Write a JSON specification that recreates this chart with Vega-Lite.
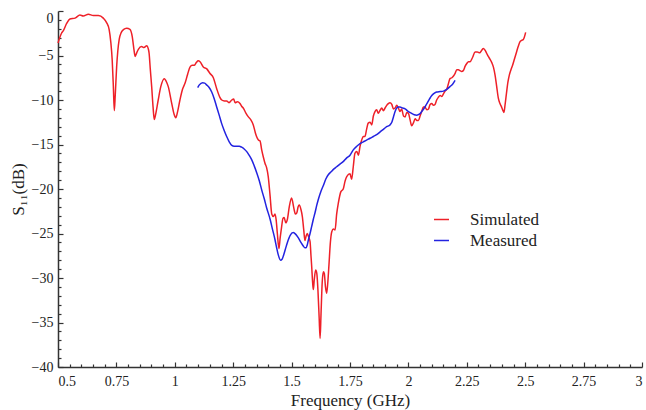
{
  "$schema": "https://vega.github.io/schema/vega-lite/v6.json",
  "width": 584,
  "height": 356,
  "autosize": "none",
  "padding": {"left": 58, "top": 11, "right": 4, "bottom": 43},
  "background": "white",
  "config": {
    "view": {"stroke": null},
    "font": "Liberation Serif",
    "axis": {
      "domainColor": "#333333",
      "domainWidth": 1.5,
      "tickColor": "#333333",
      "tickWidth": 1.2,
      "grid": false,
      "labelFont": "Liberation Serif",
      "labelFontSize": 14,
      "labelColor": "#222222",
      "titleFont": "Liberation Serif",
      "titleFontSize": 17,
      "titleFontWeight": "normal",
      "titleColor": "#222222"
    }
  },
  "datasets": {
    "curves": [
      {"series": "Simulated", "f": 0.5, "db": -3.6},
      {"series": "Simulated", "f": 0.515, "db": -2.5},
      {"series": "Simulated", "f": 0.523, "db": -2.2},
      {"series": "Simulated", "f": 0.537, "db": -1.4},
      {"series": "Simulated", "f": 0.551, "db": -0.9},
      {"series": "Simulated", "f": 0.573, "db": -0.8},
      {"series": "Simulated", "f": 0.594, "db": -0.45},
      {"series": "Simulated", "f": 0.608, "db": -0.55},
      {"series": "Simulated", "f": 0.63, "db": -0.37},
      {"series": "Simulated", "f": 0.651, "db": -0.5},
      {"series": "Simulated", "f": 0.673, "db": -0.5},
      {"series": "Simulated", "f": 0.694, "db": -0.8},
      {"series": "Simulated", "f": 0.708, "db": -1.3},
      {"series": "Simulated", "f": 0.719, "db": -2.1},
      {"series": "Simulated", "f": 0.726, "db": -3.5},
      {"series": "Simulated", "f": 0.732, "db": -5.5},
      {"series": "Simulated", "f": 0.737, "db": -8.5},
      {"series": "Simulated", "f": 0.741, "db": -11.2},
      {"series": "Simulated", "f": 0.745, "db": -9.5},
      {"series": "Simulated", "f": 0.751, "db": -6.3},
      {"series": "Simulated", "f": 0.756, "db": -4.5},
      {"series": "Simulated", "f": 0.762, "db": -3.2},
      {"series": "Simulated", "f": 0.771, "db": -2.4},
      {"series": "Simulated", "f": 0.78, "db": -2.1},
      {"series": "Simulated", "f": 0.794, "db": -1.95},
      {"series": "Simulated", "f": 0.808, "db": -2.06},
      {"series": "Simulated", "f": 0.818, "db": -2.9},
      {"series": "Simulated", "f": 0.825, "db": -4.3},
      {"series": "Simulated", "f": 0.83, "db": -5.1},
      {"series": "Simulated", "f": 0.837, "db": -4.7},
      {"series": "Simulated", "f": 0.844, "db": -4.3},
      {"series": "Simulated", "f": 0.858, "db": -4.0},
      {"series": "Simulated", "f": 0.868, "db": -4.1},
      {"series": "Simulated", "f": 0.88, "db": -3.9},
      {"series": "Simulated", "f": 0.886, "db": -4.2},
      {"series": "Simulated", "f": 0.89, "db": -4.75},
      {"series": "Simulated", "f": 0.895, "db": -6.5},
      {"series": "Simulated", "f": 0.901, "db": -8.5},
      {"series": "Simulated", "f": 0.907, "db": -10.8},
      {"series": "Simulated", "f": 0.912, "db": -12.2},
      {"series": "Simulated", "f": 0.918, "db": -11.6},
      {"series": "Simulated", "f": 0.929, "db": -10.0},
      {"series": "Simulated", "f": 0.94, "db": -8.5},
      {"series": "Simulated", "f": 0.955, "db": -7.6},
      {"series": "Simulated", "f": 0.965, "db": -8.0},
      {"series": "Simulated", "f": 0.972, "db": -8.5},
      {"series": "Simulated", "f": 0.987, "db": -10.4},
      {"series": "Simulated", "f": 0.997, "db": -11.6},
      {"series": "Simulated", "f": 1.004, "db": -12.0},
      {"series": "Simulated", "f": 1.012, "db": -11.3},
      {"series": "Simulated", "f": 1.022, "db": -10.0},
      {"series": "Simulated", "f": 1.033, "db": -8.8},
      {"series": "Simulated", "f": 1.044, "db": -8.1},
      {"series": "Simulated", "f": 1.055, "db": -7.1},
      {"series": "Simulated", "f": 1.065, "db": -6.3},
      {"series": "Simulated", "f": 1.075, "db": -6.1},
      {"series": "Simulated", "f": 1.083, "db": -6.1},
      {"series": "Simulated", "f": 1.092, "db": -5.8},
      {"series": "Simulated", "f": 1.1, "db": -5.6},
      {"series": "Simulated", "f": 1.108, "db": -5.7},
      {"series": "Simulated", "f": 1.122, "db": -6.3},
      {"series": "Simulated", "f": 1.137, "db": -6.5},
      {"series": "Simulated", "f": 1.15, "db": -7.0},
      {"series": "Simulated", "f": 1.165, "db": -7.5},
      {"series": "Simulated", "f": 1.179, "db": -8.7},
      {"series": "Simulated", "f": 1.193, "db": -9.7},
      {"series": "Simulated", "f": 1.201, "db": -10.0},
      {"series": "Simulated", "f": 1.212, "db": -10.1},
      {"series": "Simulated", "f": 1.222, "db": -10.1},
      {"series": "Simulated", "f": 1.232, "db": -10.3},
      {"series": "Simulated", "f": 1.244, "db": -10.0},
      {"series": "Simulated", "f": 1.252, "db": -9.9},
      {"series": "Simulated", "f": 1.258, "db": -10.3},
      {"series": "Simulated", "f": 1.268, "db": -10.2},
      {"series": "Simulated", "f": 1.279, "db": -10.4},
      {"series": "Simulated", "f": 1.286, "db": -10.7},
      {"series": "Simulated", "f": 1.293, "db": -10.9},
      {"series": "Simulated", "f": 1.305, "db": -11.5},
      {"series": "Simulated", "f": 1.315, "db": -11.9},
      {"series": "Simulated", "f": 1.325, "db": -12.2},
      {"series": "Simulated", "f": 1.336, "db": -12.8},
      {"series": "Simulated", "f": 1.345, "db": -13.7},
      {"series": "Simulated", "f": 1.35, "db": -14.1},
      {"series": "Simulated", "f": 1.358, "db": -14.5},
      {"series": "Simulated", "f": 1.365, "db": -14.6},
      {"series": "Simulated", "f": 1.372, "db": -15.6},
      {"series": "Simulated", "f": 1.379, "db": -16.4},
      {"series": "Simulated", "f": 1.386, "db": -17.1},
      {"series": "Simulated", "f": 1.393, "db": -17.6},
      {"series": "Simulated", "f": 1.4, "db": -18.6},
      {"series": "Simulated", "f": 1.408, "db": -20.8},
      {"series": "Simulated", "f": 1.415, "db": -22.8},
      {"series": "Simulated", "f": 1.422, "db": -23.1},
      {"series": "Simulated", "f": 1.429, "db": -22.8},
      {"series": "Simulated", "f": 1.434, "db": -23.5},
      {"series": "Simulated", "f": 1.439, "db": -25.0},
      {"series": "Simulated", "f": 1.446, "db": -26.7},
      {"series": "Simulated", "f": 1.451, "db": -25.5},
      {"series": "Simulated", "f": 1.457, "db": -24.3},
      {"series": "Simulated", "f": 1.463, "db": -23.3},
      {"series": "Simulated", "f": 1.468, "db": -23.2},
      {"series": "Simulated", "f": 1.475, "db": -23.8},
      {"series": "Simulated", "f": 1.482, "db": -23.4},
      {"series": "Simulated", "f": 1.49, "db": -22.0},
      {"series": "Simulated", "f": 1.5, "db": -21.0},
      {"series": "Simulated", "f": 1.505, "db": -21.5},
      {"series": "Simulated", "f": 1.51, "db": -22.2},
      {"series": "Simulated", "f": 1.516, "db": -22.8},
      {"series": "Simulated", "f": 1.522, "db": -22.7},
      {"series": "Simulated", "f": 1.528, "db": -22.0},
      {"series": "Simulated", "f": 1.533, "db": -21.8},
      {"series": "Simulated", "f": 1.54, "db": -22.3},
      {"series": "Simulated", "f": 1.546, "db": -23.1},
      {"series": "Simulated", "f": 1.552, "db": -24.6},
      {"series": "Simulated", "f": 1.557, "db": -25.8},
      {"series": "Simulated", "f": 1.562, "db": -25.3},
      {"series": "Simulated", "f": 1.567, "db": -25.0},
      {"series": "Simulated", "f": 1.573, "db": -25.4},
      {"series": "Simulated", "f": 1.579, "db": -25.9},
      {"series": "Simulated", "f": 1.583, "db": -27.5},
      {"series": "Simulated", "f": 1.586, "db": -28.7},
      {"series": "Simulated", "f": 1.59, "db": -30.5},
      {"series": "Simulated", "f": 1.593, "db": -31.3},
      {"series": "Simulated", "f": 1.597, "db": -30.2},
      {"series": "Simulated", "f": 1.603, "db": -29.1},
      {"series": "Simulated", "f": 1.608, "db": -29.5},
      {"series": "Simulated", "f": 1.613, "db": -31.5},
      {"series": "Simulated", "f": 1.618, "db": -34.5},
      {"series": "Simulated", "f": 1.622, "db": -36.8},
      {"series": "Simulated", "f": 1.626, "db": -34.0},
      {"series": "Simulated", "f": 1.631, "db": -30.5},
      {"series": "Simulated", "f": 1.636, "db": -29.3},
      {"series": "Simulated", "f": 1.64, "db": -29.5},
      {"series": "Simulated", "f": 1.645, "db": -31.0},
      {"series": "Simulated", "f": 1.65, "db": -31.7},
      {"series": "Simulated", "f": 1.655, "db": -30.5},
      {"series": "Simulated", "f": 1.66, "db": -28.5},
      {"series": "Simulated", "f": 1.666, "db": -26.0},
      {"series": "Simulated", "f": 1.672, "db": -24.8},
      {"series": "Simulated", "f": 1.679, "db": -24.5},
      {"series": "Simulated", "f": 1.686, "db": -24.6},
      {"series": "Simulated", "f": 1.693, "db": -22.8},
      {"series": "Simulated", "f": 1.7, "db": -21.6},
      {"series": "Simulated", "f": 1.711, "db": -20.3},
      {"series": "Simulated", "f": 1.721, "db": -20.0},
      {"series": "Simulated", "f": 1.729, "db": -19.1},
      {"series": "Simulated", "f": 1.736, "db": -18.6},
      {"series": "Simulated", "f": 1.75, "db": -18.3},
      {"series": "Simulated", "f": 1.757, "db": -18.9},
      {"series": "Simulated", "f": 1.764, "db": -17.5},
      {"series": "Simulated", "f": 1.771, "db": -16.0},
      {"series": "Simulated", "f": 1.779, "db": -15.8},
      {"series": "Simulated", "f": 1.786, "db": -16.2},
      {"series": "Simulated", "f": 1.793, "db": -15.2},
      {"series": "Simulated", "f": 1.8, "db": -14.5},
      {"series": "Simulated", "f": 1.807, "db": -14.1},
      {"series": "Simulated", "f": 1.814, "db": -14.1},
      {"series": "Simulated", "f": 1.821, "db": -13.3},
      {"series": "Simulated", "f": 1.828, "db": -12.6},
      {"series": "Simulated", "f": 1.836, "db": -12.5},
      {"series": "Simulated", "f": 1.843, "db": -12.8},
      {"series": "Simulated", "f": 1.85, "db": -11.8},
      {"series": "Simulated", "f": 1.857, "db": -11.3},
      {"series": "Simulated", "f": 1.864, "db": -11.1},
      {"series": "Simulated", "f": 1.871, "db": -11.5},
      {"series": "Simulated", "f": 1.878, "db": -11.2},
      {"series": "Simulated", "f": 1.886, "db": -10.9},
      {"series": "Simulated", "f": 1.893, "db": -11.2},
      {"series": "Simulated", "f": 1.9, "db": -10.9},
      {"series": "Simulated", "f": 1.907, "db": -10.6},
      {"series": "Simulated", "f": 1.914, "db": -10.4},
      {"series": "Simulated", "f": 1.921, "db": -10.3},
      {"series": "Simulated", "f": 1.929, "db": -10.5},
      {"series": "Simulated", "f": 1.936, "db": -11.0},
      {"series": "Simulated", "f": 1.943, "db": -10.9},
      {"series": "Simulated", "f": 1.95, "db": -10.6},
      {"series": "Simulated", "f": 1.957, "db": -10.9},
      {"series": "Simulated", "f": 1.964, "db": -11.3},
      {"series": "Simulated", "f": 1.971, "db": -11.0},
      {"series": "Simulated", "f": 1.979, "db": -11.8},
      {"series": "Simulated", "f": 1.986, "db": -11.9},
      {"series": "Simulated", "f": 1.993, "db": -11.4},
      {"series": "Simulated", "f": 2.0, "db": -11.5},
      {"series": "Simulated", "f": 2.007, "db": -12.2},
      {"series": "Simulated", "f": 2.014, "db": -12.9},
      {"series": "Simulated", "f": 2.021, "db": -12.6},
      {"series": "Simulated", "f": 2.029, "db": -12.1},
      {"series": "Simulated", "f": 2.036, "db": -12.3},
      {"series": "Simulated", "f": 2.043, "db": -12.3},
      {"series": "Simulated", "f": 2.05, "db": -11.8},
      {"series": "Simulated", "f": 2.057, "db": -11.3},
      {"series": "Simulated", "f": 2.064, "db": -10.8},
      {"series": "Simulated", "f": 2.071, "db": -10.8},
      {"series": "Simulated", "f": 2.079, "db": -11.1},
      {"series": "Simulated", "f": 2.086, "db": -11.0},
      {"series": "Simulated", "f": 2.093, "db": -10.5},
      {"series": "Simulated", "f": 2.1, "db": -10.4},
      {"series": "Simulated", "f": 2.107, "db": -10.6},
      {"series": "Simulated", "f": 2.114, "db": -10.5},
      {"series": "Simulated", "f": 2.121, "db": -10.0},
      {"series": "Simulated", "f": 2.128, "db": -9.7},
      {"series": "Simulated", "f": 2.136, "db": -9.5},
      {"series": "Simulated", "f": 2.143, "db": -9.6},
      {"series": "Simulated", "f": 2.15, "db": -9.3},
      {"series": "Simulated", "f": 2.157, "db": -9.0},
      {"series": "Simulated", "f": 2.164, "db": -8.8},
      {"series": "Simulated", "f": 2.171, "db": -8.2},
      {"series": "Simulated", "f": 2.178, "db": -7.6},
      {"series": "Simulated", "f": 2.186, "db": -7.5},
      {"series": "Simulated", "f": 2.193, "db": -7.3},
      {"series": "Simulated", "f": 2.2, "db": -7.0},
      {"series": "Simulated", "f": 2.207, "db": -6.6},
      {"series": "Simulated", "f": 2.214, "db": -6.6},
      {"series": "Simulated", "f": 2.221, "db": -6.7},
      {"series": "Simulated", "f": 2.228, "db": -6.8},
      {"series": "Simulated", "f": 2.235, "db": -6.7},
      {"series": "Simulated", "f": 2.243, "db": -6.2},
      {"series": "Simulated", "f": 2.25, "db": -5.9},
      {"series": "Simulated", "f": 2.257, "db": -5.7},
      {"series": "Simulated", "f": 2.264, "db": -5.7},
      {"series": "Simulated", "f": 2.275, "db": -5.2},
      {"series": "Simulated", "f": 2.285, "db": -4.6},
      {"series": "Simulated", "f": 2.295, "db": -4.6},
      {"series": "Simulated", "f": 2.305, "db": -4.7},
      {"series": "Simulated", "f": 2.314, "db": -4.4},
      {"series": "Simulated", "f": 2.321, "db": -4.2},
      {"series": "Simulated", "f": 2.328, "db": -4.4},
      {"series": "Simulated", "f": 2.335, "db": -4.75},
      {"series": "Simulated", "f": 2.342, "db": -5.1},
      {"series": "Simulated", "f": 2.349, "db": -5.4},
      {"series": "Simulated", "f": 2.357, "db": -5.8},
      {"series": "Simulated", "f": 2.364, "db": -6.3},
      {"series": "Simulated", "f": 2.371, "db": -7.2},
      {"series": "Simulated", "f": 2.378, "db": -8.5},
      {"series": "Simulated", "f": 2.385, "db": -9.8},
      {"series": "Simulated", "f": 2.392, "db": -10.4},
      {"series": "Simulated", "f": 2.399, "db": -10.8},
      {"series": "Simulated", "f": 2.405, "db": -11.2},
      {"series": "Simulated", "f": 2.409, "db": -11.4},
      {"series": "Simulated", "f": 2.414, "db": -10.5},
      {"series": "Simulated", "f": 2.42, "db": -9.2},
      {"series": "Simulated", "f": 2.426, "db": -8.0},
      {"series": "Simulated", "f": 2.432, "db": -7.2},
      {"series": "Simulated", "f": 2.439, "db": -6.6},
      {"series": "Simulated", "f": 2.446, "db": -6.1},
      {"series": "Simulated", "f": 2.455, "db": -5.3},
      {"series": "Simulated", "f": 2.463, "db": -4.6},
      {"series": "Simulated", "f": 2.47, "db": -4.0},
      {"series": "Simulated", "f": 2.478, "db": -3.45},
      {"series": "Simulated", "f": 2.485, "db": -3.3},
      {"series": "Simulated", "f": 2.492, "db": -3.2},
      {"series": "Simulated", "f": 2.502, "db": -2.4},
      {"series": "Measured", "f": 1.098, "db": -8.6},
      {"series": "Measured", "f": 1.105, "db": -8.3},
      {"series": "Measured", "f": 1.119, "db": -8.05},
      {"series": "Measured", "f": 1.128, "db": -8.1},
      {"series": "Measured", "f": 1.136, "db": -8.3},
      {"series": "Measured", "f": 1.147, "db": -8.6},
      {"series": "Measured", "f": 1.158, "db": -9.1},
      {"series": "Measured", "f": 1.168, "db": -9.8},
      {"series": "Measured", "f": 1.179, "db": -10.75},
      {"series": "Measured", "f": 1.19, "db": -11.7},
      {"series": "Measured", "f": 1.2, "db": -12.6},
      {"series": "Measured", "f": 1.211, "db": -13.4},
      {"series": "Measured", "f": 1.222, "db": -14.1},
      {"series": "Measured", "f": 1.233, "db": -14.7},
      {"series": "Measured", "f": 1.244, "db": -15.1},
      {"series": "Measured", "f": 1.254, "db": -15.2},
      {"series": "Measured", "f": 1.265, "db": -15.2},
      {"series": "Measured", "f": 1.276, "db": -15.2},
      {"series": "Measured", "f": 1.286, "db": -15.3},
      {"series": "Measured", "f": 1.297, "db": -15.5},
      {"series": "Measured", "f": 1.308, "db": -15.8},
      {"series": "Measured", "f": 1.318, "db": -16.2},
      {"series": "Measured", "f": 1.329, "db": -16.7},
      {"series": "Measured", "f": 1.34, "db": -17.4},
      {"series": "Measured", "f": 1.351, "db": -18.2},
      {"series": "Measured", "f": 1.362, "db": -19.1},
      {"series": "Measured", "f": 1.372, "db": -20.1},
      {"series": "Measured", "f": 1.383, "db": -21.1},
      {"series": "Measured", "f": 1.393, "db": -22.1},
      {"series": "Measured", "f": 1.408, "db": -23.4},
      {"series": "Measured", "f": 1.418, "db": -24.5},
      {"series": "Measured", "f": 1.429, "db": -25.7},
      {"series": "Measured", "f": 1.436, "db": -26.6},
      {"series": "Measured", "f": 1.443, "db": -27.4},
      {"series": "Measured", "f": 1.453, "db": -28.0},
      {"series": "Measured", "f": 1.459, "db": -27.9},
      {"series": "Measured", "f": 1.465, "db": -27.5},
      {"series": "Measured", "f": 1.473, "db": -26.8},
      {"series": "Measured", "f": 1.482, "db": -26.0},
      {"series": "Measured", "f": 1.494, "db": -25.2},
      {"series": "Measured", "f": 1.507, "db": -24.9},
      {"series": "Measured", "f": 1.518, "db": -25.1},
      {"series": "Measured", "f": 1.529, "db": -25.5},
      {"series": "Measured", "f": 1.54, "db": -26.0},
      {"series": "Measured", "f": 1.55, "db": -26.4},
      {"series": "Measured", "f": 1.557, "db": -26.6},
      {"series": "Measured", "f": 1.562, "db": -26.6},
      {"series": "Measured", "f": 1.567, "db": -26.3},
      {"series": "Measured", "f": 1.572, "db": -25.7},
      {"series": "Measured", "f": 1.579, "db": -25.0},
      {"series": "Measured", "f": 1.586, "db": -24.2},
      {"series": "Measured", "f": 1.593, "db": -23.4},
      {"series": "Measured", "f": 1.6, "db": -22.7},
      {"series": "Measured", "f": 1.607, "db": -21.9},
      {"series": "Measured", "f": 1.614, "db": -21.2},
      {"series": "Measured", "f": 1.625, "db": -20.3},
      {"series": "Measured", "f": 1.636, "db": -19.6},
      {"series": "Measured", "f": 1.646, "db": -18.9},
      {"series": "Measured", "f": 1.657, "db": -18.4},
      {"series": "Measured", "f": 1.668, "db": -18.1},
      {"series": "Measured", "f": 1.679, "db": -17.8},
      {"series": "Measured", "f": 1.693, "db": -17.5},
      {"series": "Measured", "f": 1.707, "db": -17.2},
      {"series": "Measured", "f": 1.722, "db": -16.9},
      {"series": "Measured", "f": 1.736, "db": -16.5},
      {"series": "Measured", "f": 1.75, "db": -16.2},
      {"series": "Measured", "f": 1.764, "db": -15.6},
      {"series": "Measured", "f": 1.779, "db": -15.2},
      {"series": "Measured", "f": 1.793, "db": -14.9},
      {"series": "Measured", "f": 1.807, "db": -14.7},
      {"series": "Measured", "f": 1.821, "db": -14.5},
      {"series": "Measured", "f": 1.836, "db": -14.3},
      {"series": "Measured", "f": 1.85, "db": -14.1},
      {"series": "Measured", "f": 1.864, "db": -13.9},
      {"series": "Measured", "f": 1.878, "db": -13.6},
      {"series": "Measured", "f": 1.893, "db": -13.3},
      {"series": "Measured", "f": 1.907, "db": -13.0},
      {"series": "Measured", "f": 1.921, "db": -12.8},
      {"series": "Measured", "f": 1.929, "db": -12.5},
      {"series": "Measured", "f": 1.936, "db": -11.9},
      {"series": "Measured", "f": 1.943, "db": -11.3},
      {"series": "Measured", "f": 1.95, "db": -10.9},
      {"series": "Measured", "f": 1.957, "db": -10.8},
      {"series": "Measured", "f": 1.964, "db": -10.8},
      {"series": "Measured", "f": 1.975, "db": -10.9},
      {"series": "Measured", "f": 1.986, "db": -11.0},
      {"series": "Measured", "f": 2.0, "db": -11.3},
      {"series": "Measured", "f": 2.014, "db": -11.5},
      {"series": "Measured", "f": 2.025, "db": -11.65},
      {"series": "Measured", "f": 2.036, "db": -11.7},
      {"series": "Measured", "f": 2.047, "db": -11.6},
      {"series": "Measured", "f": 2.057, "db": -11.3},
      {"series": "Measured", "f": 2.068, "db": -10.9},
      {"series": "Measured", "f": 2.079, "db": -10.4},
      {"series": "Measured", "f": 2.09, "db": -9.9},
      {"series": "Measured", "f": 2.1, "db": -9.5},
      {"series": "Measured", "f": 2.11, "db": -9.25},
      {"series": "Measured", "f": 2.121, "db": -9.1},
      {"series": "Measured", "f": 2.136, "db": -9.05},
      {"series": "Measured", "f": 2.15, "db": -9.0},
      {"series": "Measured", "f": 2.164, "db": -8.8},
      {"series": "Measured", "f": 2.178, "db": -8.5},
      {"series": "Measured", "f": 2.19, "db": -8.2},
      {"series": "Measured", "f": 2.2, "db": -7.8}
    ]
  },
  "data": {"name": "curves"},
  "layer": [
    {
      "mark": {"type": "point", "opacity": 0},
      "encoding": {
        "x": {
          "field": "f", "type": "quantitative",
          "scale": {"domain": [0.5, 3], "nice": false, "zero": false},
          "axis": {
            "orient": "bottom",
            "values": [0.55, 0.6, 0.65, 0.7, 0.8, 0.85, 0.9, 0.95, 1.05, 1.1, 1.15, 1.2, 1.3, 1.35, 1.4, 1.45, 1.55, 1.6, 1.65, 1.7, 1.8, 1.85, 1.9, 1.95, 2.05, 2.1, 2.15, 2.2, 2.3, 2.35, 2.4, 2.45, 2.55, 2.6, 2.65, 2.7, 2.8, 2.85, 2.9, 2.95],
            "labels": false, "domain": false, "title": null, "tickSize": -3
          }
        },
        "y": {
          "field": "db", "type": "quantitative",
          "scale": {"domain": [-40, 0], "nice": false, "zero": false},
          "axis": {
            "orient": "left",
            "values": [-1, -2, -3, -4, -6, -7, -8, -9, -11, -12, -13, -14, -16, -17, -18, -19, -21, -22, -23, -24, -26, -27, -28, -29, -31, -32, -33, -34, -36, -37, -38, -39],
            "labels": false, "domain": false, "title": null, "tickSize": -3
          }
        }
      }
    },
    {
      "mark": {"type": "line", "strokeWidth": 1.5, "interpolate": "monotone"},
      "encoding": {
        "x": {
          "field": "f", "type": "quantitative",
          "axis": {
            "orient": "bottom",
            "values": [0.5, 0.75, 1, 1.25, 1.5, 1.75, 2, 2.25, 2.5, 2.75, 3],
            "format": ".3~g",
            "tickSize": -5, "labelPadding": 12, "title": "Frequency (GHz)", "titlePadding": 4
          }
        },
        "y": {
          "field": "db", "type": "quantitative",
          "axis": {
            "orient": "left",
            "values": [0, -5, -10, -15, -20, -25, -30, -35, -40],
            "format": ".3~g",
            "tickSize": -5, "labelPadding": 10, "title": "S₁₁(dB)", "titlePadding": 4,
            "labelBaseline": {"condition": {"test": "datum.value == 0", "value": "top"}, "value": "middle"}
          }
        },
        "color": {
          "field": "series", "type": "nominal",
          "scale": {"domain": ["Simulated", "Measured"], "range": ["#ee2028", "#2323e0"]},
          "legend": {
            "orient": "none", "legendX": 375, "legendY": 200, "title": null,
            "symbolType": "stroke", "symbolSize": 225, "symbolStrokeWidth": 1.5,
            "labelFont": "Liberation Serif", "labelFontSize": 17, "labelColor": "#222222",
            "labelOffset": 20, "rowPadding": 3, "padding": 0
          }
        },
        "order": {"field": "f", "type": "quantitative"}
      }
    }
  ],
  "resolve": {"axis": {"x": "independent", "y": "independent"}}
}
